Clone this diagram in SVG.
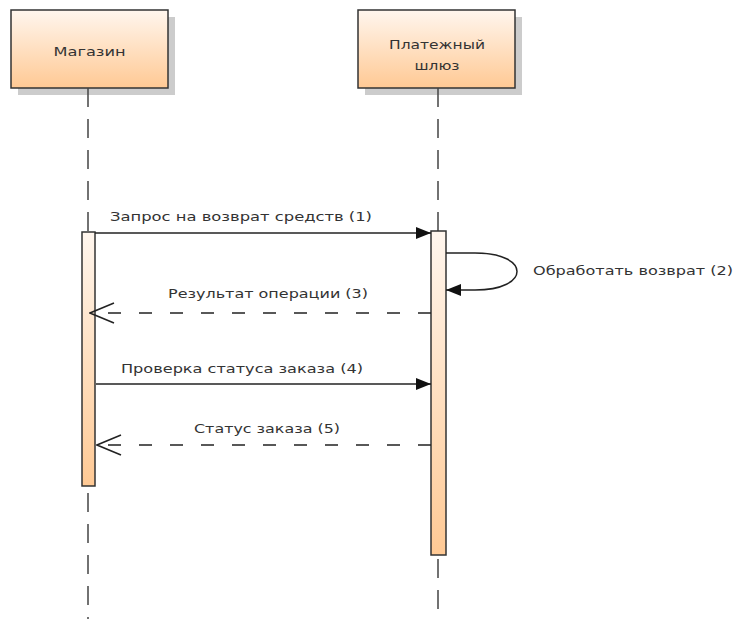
<svg xmlns="http://www.w3.org/2000/svg" width="735" height="619" viewBox="0 0 735 619">
<style>
.txt{font-family:"DejaVu Sans","Liberation Sans",sans-serif;font-size:13px;fill:#333333}
.box{fill:url(#g);stroke:#333333;stroke-width:1.5}
.shadow{fill:#cccccc}
.life{stroke:#444444;stroke-width:1.5;stroke-dasharray:19 12;fill:none}
.msg{stroke:#222222;stroke-width:1.5;fill:none}
.ret{stroke:#222222;stroke-width:1.5;fill:none;stroke-dasharray:13 18}
</style>
<defs>
<linearGradient id="g" x1="0" y1="0" x2="0" y2="1">
<stop offset="0" stop-color="#FFF6EE"/>
<stop offset="1" stop-color="#FFC994"/>
</linearGradient>
<marker id="filled" markerWidth="15" markerHeight="13" refX="15" refY="6.5" orient="auto" markerUnits="userSpaceOnUse">
<path d="M0,0.5 L15,6.5 L0,12.5 Z" fill="#111111"/>
</marker>
<marker id="open" markerWidth="26" markerHeight="22" refX="25" refY="11" orient="auto" markerUnits="userSpaceOnUse">
<path d="M1,1 L25,11 L1,21" fill="none" stroke="#222222" stroke-width="1.5"/>
</marker>
</defs>

<g id="shop">
<rect class="shadow" x="18" y="17" width="157" height="78"/>
<rect class="box" x="11" y="10" width="157" height="78"/>
<text class="txt" x="89.5" y="56" text-anchor="middle" textLength="72" lengthAdjust="spacingAndGlyphs">Магазин</text>
</g>

<g id="gateway">
<rect class="shadow" x="365" y="17" width="157" height="78"/>
<rect class="box" x="358" y="10" width="157" height="78"/>
<text class="txt" x="437" y="49" text-anchor="middle" textLength="96" lengthAdjust="spacingAndGlyphs">Платежный</text>
<text class="txt" x="437" y="70" text-anchor="middle" textLength="45" lengthAdjust="spacingAndGlyphs">шлюз</text>
</g>

<g id="lifelines">
<line class="life" x1="88" y1="88" x2="88" y2="232"/>
<line class="life" x1="88" y1="493" x2="88" y2="619"/>
<line class="life" x1="438" y1="88" x2="438" y2="231"/>
<line class="life" x1="438" y1="559" x2="438" y2="619"/>
</g>

<g id="activation-shop">
<rect class="box" x="82" y="232" width="13" height="254"/>
</g>
<g id="activation-gateway">
<rect class="box" x="431" y="231" width="15" height="324"/>
</g>

<g id="connectors">
<line class="msg" x1="95" y1="233" x2="431" y2="233" marker-end="url(#filled)"/>
<path class="msg" d="M446,253 L475,253 C531,253 531,290 475,290 L446,290" marker-end="url(#filled)"/>
<line class="ret" x1="431" y1="313" x2="90" y2="313" marker-end="url(#open)"/>
<line class="msg" x1="96" y1="384" x2="431" y2="384" marker-end="url(#filled)"/>
<line class="ret" x1="431" y1="445" x2="97" y2="445" marker-end="url(#open)"/>
</g>

<g id="labels">
<text class="txt" x="110" y="221" textLength="262" lengthAdjust="spacingAndGlyphs">Запрос на возврат средств (1)</text>
<text class="txt" x="533" y="275" textLength="200" lengthAdjust="spacingAndGlyphs">Обработать возврат (2)</text>
<text class="txt" x="168" y="298" textLength="200" lengthAdjust="spacingAndGlyphs">Результат операции (3)</text>
<text class="txt" x="121" y="373" textLength="242" lengthAdjust="spacingAndGlyphs">Проверка статуса заказа (4)</text>
<text class="txt" x="194" y="433" textLength="146" lengthAdjust="spacingAndGlyphs">Статус заказа (5)</text>
</g>
</svg>
